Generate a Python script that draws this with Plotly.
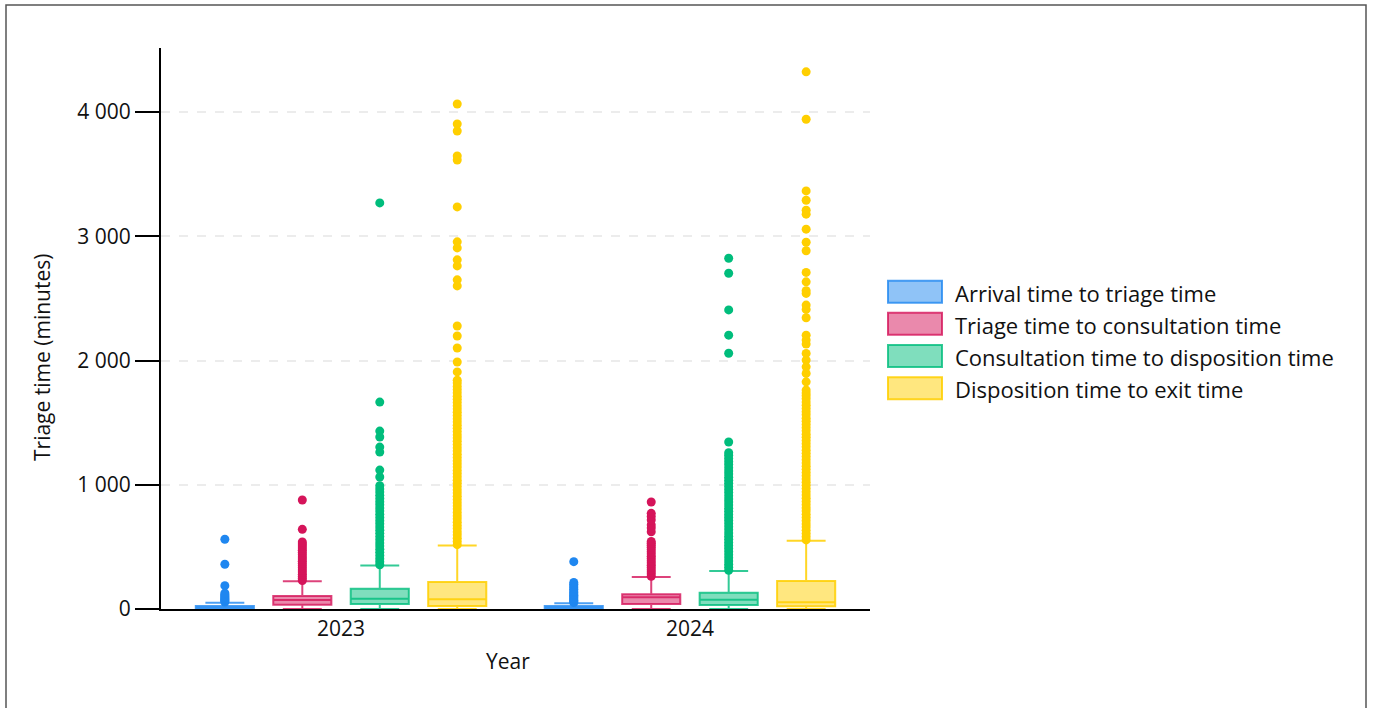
import plotly.graph_objects as go

# Categories and series
years = ["2023", "2024"]
series_names = [
    "Arrival time to triage time",
    "Triage time to consultation time",
    "Consultation time to disposition time",
    "Disposition time to exit time",
]
line_colors = ["#1f87f0", "#d5145a", "#00bd7c", "#ffcf00"]
fill_colors = [
    "rgba(31,135,240,0.5)",
    "rgba(213,20,90,0.5)",
    "rgba(0,189,124,0.5)",
    "rgba(255,207,0,0.5)",
]
box_edge_colors = [
    "rgba(31,135,240,0.8)",
    "rgba(213,20,90,0.8)",
    "rgba(0,189,124,0.8)",
    "rgba(255,207,0,0.85)",
]

# Box statistics (minutes), one value per year
q1_values = [[3, 3], [35, 40], [40, 32], [24, 22]]
median_values = [[10, 9], [72, 94], [83, 75], [78, 54]]
q3_values = [[24, 24], [105, 118], [163, 131], [217, 225]]
lower_fence_values = [[0, 0], [0, 0], [0, 0], [0, 0]]
upper_fence_values = [[51, 46], [223, 257], [351, 306], [512, 550]]

# Outliers (minutes)
arrival_outliers_2023 = [56, 64, 72, 80, 88, 97, 106, 116, 128, 188, 360, 561]
arrival_outliers_2024 = [52, 60, 70, 80, 90, 100, 111, 121, 133, 145, 158,
                         171, 185, 200, 214, 381]

triage_outliers_2023 = [229, 246, 262, 279, 297, 314, 331, 349, 366, 384, 402,
                        419, 437, 455, 473, 490, 508, 524, 539, 641, 877]
triage_outliers_2024 = [263, 281, 298, 316, 334, 352, 370, 388, 406, 424, 442,
                        460, 478, 496, 513, 529, 543, 622, 652, 676, 716, 745,
                        770, 861]

consult_outliers_2023 = [356, 381, 405, 431, 456, 481, 507, 532, 558, 583, 609,
                         634, 660, 686, 711, 737, 762, 788, 813, 839, 864, 890,
                         915, 941, 966, 992, 1062, 1118, 1263, 1303, 1384, 1432,
                         1665, 3268]
consult_outliers_2024 = [311, 337, 361, 386, 412, 436, 461, 487, 511, 536, 562,
                         586, 611, 637, 661, 686, 712, 736, 761, 787, 811, 836,
                         862, 886, 911, 937, 961, 986, 1012, 1036, 1061, 1087,
                         1111, 1136, 1162, 1186, 1211, 1237, 1258, 1344, 2058,
                         2204, 2407, 2702, 2823]

exit_outliers_2023 = [518, 543, 569, 596, 620, 648, 673, 699, 726, 751, 777,
                      804, 829, 856, 881, 907, 934, 959, 986, 1012, 1037, 1064,
                      1090, 1115, 1142, 1167, 1194, 1220, 1245, 1272, 1298, 1323,
                      1350, 1376, 1401, 1428, 1454, 1479, 1506, 1532, 1557, 1584,
                      1610, 1635, 1662, 1688, 1713, 1740, 1766, 1791, 1818, 1842,
                      1908, 1988, 2101, 2197, 2278, 2600, 2649, 2761, 2810, 2906,
                      2955, 3236, 3614, 3646, 3847, 3903, 4064]
exit_outliers_2024 = [556, 582, 607, 633, 660, 684, 711, 737, 762, 789, 814,
                      840, 866, 891, 918, 943, 969, 995, 1020, 1047, 1072, 1098,
                      1124, 1149, 1176, 1201, 1227, 1253, 1278, 1305, 1330, 1356,
                      1382, 1407, 1434, 1459, 1485, 1511, 1536, 1563, 1588, 1614,
                      1640, 1665, 1692, 1717, 1738, 1762, 1828, 1896, 1949, 2003,
                      2057, 2132, 2164, 2204, 2344, 2411, 2446, 2540, 2561, 2633,
                      2709, 2883, 2952, 3057, 3178, 3210, 3290, 3365, 3942, 4323]

outliers = [
    [arrival_outliers_2023, arrival_outliers_2024],
    [triage_outliers_2023, triage_outliers_2024],
    [consult_outliers_2023, consult_outliers_2024],
    [exit_outliers_2023, exit_outliers_2024],
]

y_ticks = [0, 1000, 2000, 3000, 4000]

FONT = "Open Sans"
W, H = 1375, 708
PLOT_L, PLOT_R, PLOT_T, PLOT_B = 161, 870, 48, 609


def px_x(px):
    return (px - PLOT_L) / (PLOT_R - PLOT_L)


def px_y(py):
    return (PLOT_B - py) / (PLOT_B - PLOT_T)


fig = go.Figure()
for k, name in enumerate(series_names):
    fig.add_trace(go.Box(
        name=name,
        x=years,
        y=outliers[k],
        q1=q1_values[k],
        median=median_values[k],
        q3=q3_values[k],
        lowerfence=lower_fence_values[k],
        upperfence=upper_fence_values[k],
        orientation="v",
        boxpoints="outliers",
        pointpos=0,
        jitter=0,
        whiskerwidth=0.67,
        fillcolor=fill_colors[k],
        line=dict(color=box_edge_colors[k], width=2),
        marker=dict(color=line_colors[k], size=9, opacity=1,
                    line=dict(width=0)),
        showlegend=False,
        hoverinfo="skip",
    ))

shapes = []
annotations = []

# Legend drawn as swatches with labels
legend_rows = [291.7, 323.7, 355.9, 388.2]
for k, name in enumerate(series_names):
    cy = legend_rows[k]
    shapes.append(dict(
        type="rect", xref="paper", yref="paper",
        x0=px_x(888), x1=px_x(942), y0=px_y(cy + 11), y1=px_y(cy - 11),
        fillcolor=fill_colors[k], line=dict(color=box_edge_colors[k], width=2),
    ))
    annotations.append(dict(
        text=name, xref="paper", yref="paper",
        x=px_x(953), y=px_y(cy + 1), xanchor="left", yanchor="middle",
        showarrow=False, font=dict(family=FONT, size=22, color="#111111"),
    ))

# Axis titles
annotations.append(dict(
    text="Triage time (minutes)", xref="paper", yref="paper",
    x=px_x(42), y=px_y(358), xanchor="center", yanchor="middle",
    textangle=-90, showarrow=False,
    font=dict(family=FONT, size=21, color="#111111"),
))
annotations.append(dict(
    text="Year", xref="paper", yref="paper",
    x=px_x(508), y=px_y(661), xanchor="center", yanchor="middle",
    showarrow=False, font=dict(family=FONT, size=21, color="#111111"),
))

# Frame around the figure
shapes.append(dict(
    type="rect", xref="paper", yref="paper",
    x0=px_x(6), x1=px_x(1366), y0=px_y(730), y1=px_y(5),
    line=dict(color="#555555", width=1.5), fillcolor="rgba(0,0,0,0)",
    layer="below",
))

fig.update_layout(
    width=W, height=H,
    margin=dict(l=PLOT_L, r=W - PLOT_R, t=PLOT_T, b=H - PLOT_B, pad=0),
    paper_bgcolor="white", plot_bgcolor="white",
    boxmode="group", boxgap=0.112, boxgroupgap=0.25,
    separators=". ",
    font=dict(family=FONT, size=21, color="#111111"),
    shapes=shapes, annotations=annotations,
    showlegend=False,
)
fig.update_xaxes(
    type="category", categoryorder="array", categoryarray=years,
    range=[-0.516, 1.516],
    showline=True, linecolor="#000000", linewidth=2,
    ticks="", showgrid=False, zeroline=False,
    tickfont=dict(family=FONT, size=21, color="#111111"),
)
fig.update_yaxes(
    range=[0, 4515],
    tickvals=y_ticks, tickformat=",",
    showline=True, linecolor="#000000", linewidth=2,
    ticks="outside", ticklen=24, tickwidth=2, tickcolor="#000000",
    showgrid=True, gridcolor="#ececec", gridwidth=1.5, griddash="dash",
    zeroline=False,
    tickfont=dict(family=FONT, size=21, color="#111111"),
)

fig.write_html("out.html")
